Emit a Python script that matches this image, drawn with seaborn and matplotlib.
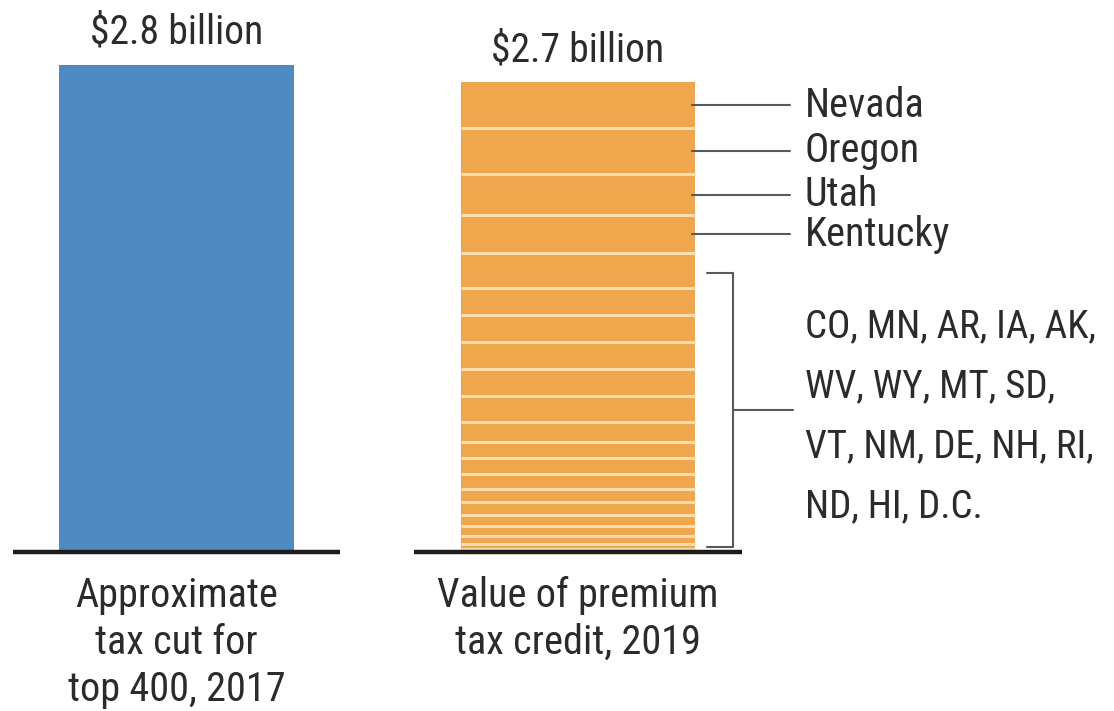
import matplotlib
matplotlib.use("Agg")
import matplotlib.pyplot as plt
from matplotlib import font_manager
import seaborn as sns
import pandas as pd
import numpy as np

# --- Dados (bilhões de US$) ---
tax_cut_value = 2.8
tax_cut_label = "$2.8 billion"
credit_label = "$2.7 billion"

named_states = ["Nevada", "Oregon", "Utah", "Kentucky"]
named_values = [0.26, 0.265, 0.24, 0.215]

other_states = ["CO", "MN", "AR", "IA", "AK", "WV", "WY", "MT", "SD",
                "VT", "NM", "DE", "NH", "RI", "ND", "HI", "D.C."]
other_values = [0.20, 0.155, 0.16, 0.155, 0.155, 0.145, 0.12, 0.09, 0.09,
                0.085, 0.075, 0.075, 0.065, 0.06, 0.045, 0.025, 0.02]
other_rows = [5, 4, 5, 3]  # quantos estados por linha no texto

captions = [["Approximate", "tax cut for", "top 400, 2017"],
            ["Value of premium", "tax credit, 2019"]]

# cores
BLUE = "#4F8BC2"
ORANGE = "#F0A64D"
SEP = "#FCDDB0"
TEXT = "#2b2b2b"
LEADER = "#5a5a5a"

# fonte condensada, se houver
sns.set_style("white")
names = {f.name for f in font_manager.fontManager.ttflist}
font_kw = {}
for fam in ["Roboto Condensed", "Liberation Sans Narrow", "Open Sans Condensed"]:
    if fam in names:
        font_kw = {"family": fam}
        break
if not font_kw:
    font_kw = {"family": "DejaVu Sans", "stretch": "condensed"}

# --- Empilhamento (de cima para baixo) ---
seg_names = named_states + other_states
seg_vals = np.array(named_values + other_values)
tops = np.cumsum(seg_vals[::-1])[::-1]      # topo de cada segmento
bottoms = tops - seg_vals
total = tops[0]

df = pd.DataFrame({
    "pos": [0] + [1] * len(seg_names),
    "height": [tax_cut_value] + list(tops),
    "layer": ["tax"] + seg_names,
})
palette = {"tax": BLUE, **{n: ORANGE for n in seg_names}}

fig = plt.figure(figsize=(11.14, 7.11), dpi=100)
ax = fig.add_axes([0, 0, 1, 1])

bar_w = 0.583
sns.barplot(data=df, x="pos", y="height", hue="layer", palette=palette,
            dodge=False, native_scale=True, width=bar_w, errorbar=None,
            legend=False, saturation=1, linewidth=0, ax=ax)

# linhas separadoras dos estados
ax.hlines(tops[1:], 1 - bar_w / 2, 1 + bar_w / 2, color=SEP, lw=2.2, zorder=3)

# linhas de base
for x in [0, 1]:
    ax.hlines(0, x - 0.408, x + 0.408, color="#1c1c1c", lw=3.2, zorder=4)

# rótulos de valor
ax.text(0, tax_cut_value + 0.08, tax_cut_label, ha="center", va="bottom",
        fontsize=28.5, color=TEXT, **font_kw)
ax.text(1, total + 0.075, credit_label, ha="center", va="bottom",
        fontsize=28.5, color=TEXT, **font_kw)

# legendas embaixo
for x, lines in zip([0, 1], captions):
    for i, line in enumerate(lines):
        ax.text(x, -0.315 - i * 0.27, line, ha="center", va="baseline",
                fontsize=29, color=TEXT, **font_kw)

# estados nomeados
for i, name in enumerate(named_states):
    y = bottoms[i] + seg_vals[i] / 2
    ax.plot([1.285, 1.528], [y, y], color=LEADER, lw=1.5, zorder=5)
    ax.text(1.565, y, name, ha="left", va="center", fontsize=29,
            color=TEXT, **font_kw)

# colchete para os demais estados
br_top = tops[len(named_states)] - 0.115
br_bot = 0.03
br_x = 1.386
ax.plot([1.321, br_x, br_x, 1.321], [br_top, br_top, br_bot, br_bot],
        color=LEADER, lw=1.5, zorder=5)
br_mid = (br_top + br_bot) / 2
ax.plot([br_x, 1.535], [br_mid, br_mid], color=LEADER, lw=1.5, zorder=5)

rows, k = [], 0
for n in other_rows:
    rows.append(", ".join(other_states[k:k + n]) + ("," if k + n < len(other_states) else ""))
    k += n
gap = 0.345
for i, row in enumerate(rows):
    y = br_mid - 0.04 - (i - (len(rows) - 1) / 2) * gap
    ax.text(1.565, y, row, ha="left", va="center", fontsize=28,
            color=TEXT, **font_kw)

ax.set_xlim(-0.4396, 2.335)
ax.set_ylim(-0.914, 3.174)
ax.axis("off")

fig.savefig("out.png", dpi=100, facecolor="white")
